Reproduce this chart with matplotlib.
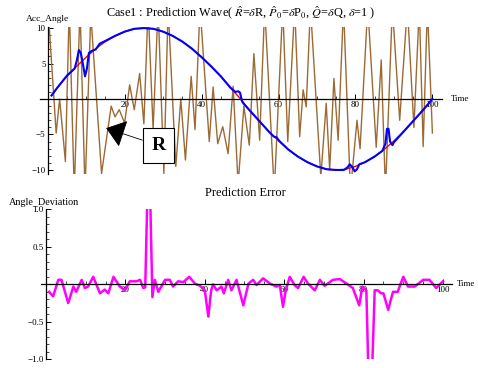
import numpy as np
import matplotlib
matplotlib.use("Agg")
import matplotlib.pyplot as plt
from matplotlib.ticker import FixedLocator, MultipleLocator

plt.rcParams['font.family'] = ['Liberation Serif', 'DejaVu Serif']
plt.rcParams['mathtext.fontset'] = 'stix'

r_t = [0.3, 2.2, 3.1, 4.6, 5.6, 6.9, 8.4, 9.7, 11.2, 14.0, 16.5, 17.5, 18.6, 20.0,
       21.3, 22.5, 23.9, 25.0, 26.1, 27.4, 28.7, 30.2, 31.3, 33.3, 34.6, 35.8,
       37.3, 38.3, 39.6, 42.0, 43.0, 44.2, 45.5, 46.9, 48.2, 49.5, 51.0, 52.4,
       53.6, 55.1, 56.4, 58.9, 61.1, 62.4, 64.2, 65.5, 66.4, 67.2, 68.3, 71.0,
       72.4, 73.3, 74.4, 75.5, 76.9, 78.7, 80.4, 81.2, 83.2, 85.4, 86.7, 87.8,
       89.6, 91.5, 93.5, 95.2, 96.6, 97.6, 98.7, 100.0]
r_v = [11, -4.8, 0.0, -8.8, 13, -13, 13, -13, 12, -10.5, -1.0, -2.5, -1.5, -3.4,
       2.0, -1.5, 3.6, -3.5, 13, -4.3, 13, -10.5, 13, -9.5, 0.0, -8.6,
       3.2, -4.3, 13, -6.0, 1.7, -6.3, -3.9, -7.7, 1.8, -12, -1.0, -6.5,
       6.4, -5.8, 13, -13, 13, -6.0, 13, -5.3, 1.3, -1.1, 13, -11,
       -0.6, -10, 2.9, -5.8, 13, -13, -3.0, -7.0, 13, -6.8, 5.5, -13,
       13, -3.0, 13, -4.0, 13, -6.7, 13, -4.8]

# true wave (red)
true_t = [1, 2.5, 5, 7.5, 10, 12.5, 15, 17.5, 20, 22.5, 25, 27.5, 30, 32.5, 35,
          37.5, 40, 42.5, 45, 47.5, 50, 52.5, 55, 57.5, 60, 62.5, 65, 67.5, 70,
          72.5, 75, 77.5, 80, 82.5, 85, 87.5, 90, 92.5, 95, 97.5, 100]
true_v = [0.5, 1.6, 3.2, 4.6, 5.9, 7.1, 8.1, 8.9, 9.5, 9.9, 10.0, 9.9, 9.5, 8.9,
          8.1, 7.1, 5.9, 4.6, 3.2, 1.6, 0.1, -1.6, -3.1, -4.6, -5.9, -7.1, -8.1,
          -8.9, -9.5, -9.9, -10.0, -9.9, -9.5, -8.9, -8.1, -7.1, -5.9, -4.6,
          -3.1, -1.6, 0.0]

# prediction (blue)
pred_t = [1, 2.5, 5, 7, 7.6, 8.1, 8.6, 9.2, 9.7, 10.2, 10.7, 11.5, 12.5, 13.5,
          15, 17.5, 20, 22.5, 25, 27.5, 30, 32.5, 35, 37.5, 40, 42.5, 45, 47.5,
          48.8, 49.5, 50.0, 50.5, 51, 52.5, 55, 57.5, 58.8, 59.5, 60.2, 62.5,
          65, 67.5, 70, 72.5, 75, 77.0, 78.0, 78.5, 79.2, 79.8, 80.4, 81,
          82.5, 85, 87, 87.8, 88.2, 88.6, 89.0, 89.6, 90, 92.5, 95, 97.5, 100]
pred_v = [0.5, 1.6, 3.3, 4.3, 5.5, 6.9, 6.5, 4.8, 3.2, 4.3, 6.5, 6.8, 7.0, 7.8,
          8.2, 8.9, 9.5, 9.9, 10.0, 9.9, 9.5, 8.9, 8.1, 7.1, 5.9, 4.6, 3.2, 1.6,
          1.0, 1.1, 0.9, -0.3, -0.7, -1.6, -3.1, -4.6, -5.3, -5.4, -5.9, -7.1,
          -8.1, -8.9, -9.5, -9.9, -10.0, -10.0, -9.6, -9.2, -9.6, -10.2, -9.9,
          -9.2, -8.9, -8.1, -7.3, -6.3, -4.2, -4.2, -6.0, -6.5, -6.1, -4.6,
          -3.1, -1.6, 0.0]

# prediction error (magenta)
err_t = [0.8, 1.8, 3.1, 3.9, 5.6, 6.9, 7.6, 9.0, 9.8, 10.6, 11.9, 13.6, 14.8,
         15.7, 17.0, 18.6, 19.9, 21.1, 22.8, 23.7, 24.5, 25.0, 25.9, 26.8, 27.4,
         28.3, 30.0, 31.2, 32.0, 33.3, 34.6, 36.1, 37.5, 38.8, 40.0, 40.9, 41.6,
         42.1, 43.0, 44.2, 44.8, 45.9, 46.7, 48.0, 49.7, 51.0, 52.2, 53.0, 54.7,
         56.4, 58.0, 58.9, 59.7, 60.4, 61.4, 62.6, 63.5, 64.9, 66.0, 67.7, 69.0,
         70.2, 72.3, 74.0, 75.7, 77.3, 78.9, 79.7, 80.7, 81.6, 82.3, 82.8, 83.6,
         84.4, 85.0, 86.2, 87.4, 88.6, 90.0, 91.2, 92.9, 95.0, 96.6, 98.3, 100.0]
err_v = [-0.10, -0.16, 0.06, 0.06, -0.25, -0.03, -0.10, 0.06, -0.05, -0.03,
         0.10, -0.12, -0.07, -0.12, 0.10, -0.03, -0.08, 0.04, 0.04, 0.06, -0.05,
         -0.04, 2.0, -0.17, 0.06, -0.10, 0.06, 0.06, -0.03, 0.04, 0.03, 0.10,
         0.01, -0.02, -0.08, -0.43, -0.08, 0.00, -0.08, -0.03, -0.12, 0.06,
         -0.08, 0.06, -0.28, 0.01, 0.06, -0.01, 0.08, 0.01, -0.03, -0.01, -0.30,
         -0.08, 0.10, -0.01, -0.05, 0.10, 0.01, -0.08, 0.06, -0.02, 0.06, 0.07,
         0.01, -0.05, -0.28, -0.03, -0.08, -2.0, -0.9, -0.08, -0.08, -0.12,
         -0.12, -0.34, -0.10, -0.10, 0.10, -0.03, -0.03, 0.06, 0.06, -0.05, 0.04]

fig = plt.figure(figsize=(4.78, 3.68), dpi=100)


def mathematica_axes(ax):
    # axes crossing at the origin, ticks pointing inwards
    for s in ["top", "right"]:
        ax.spines[s].set_visible(False)
    ax.spines["left"].set_position(("data", 0))
    ax.spines["bottom"].set_position(("data", 0))
    ax.spines["left"].set_linewidth(0.9)
    ax.spines["bottom"].set_linewidth(0.9)
    ax.tick_params(which="major", direction="in", length=3.5, width=0.7,
                   labelsize=6.5, pad=1.5, colors="black")
    ax.tick_params(which="minor", direction="in", length=2, width=0.5)
    ax.patch.set_alpha(0)


# top panel -------------------------------------------------------------
ax1 = fig.add_axes([0.0837, 0.5285, 0.841, 0.399])
ax1.plot(r_t, r_v, color="#9C6A35", lw=1.0, solid_joinstyle="round", zorder=2)
ax1.plot(true_t, true_v, color="#FF0000", lw=1.0, zorder=3)
ax1.plot(pred_t, pred_v, color="#0000FF", lw=1.5, zorder=4)
ax1.set_xlim(-2, 102.5)
ax1.set_ylim(-10.5, 10.2)
mathematica_axes(ax1)
ax1.xaxis.set_major_locator(FixedLocator([20, 40, 60, 80, 100]))
ax1.xaxis.set_minor_locator(MultipleLocator(5))
ax1.yaxis.set_major_locator(FixedLocator([-10, -5, 5, 10]))
ax1.yaxis.set_minor_locator(MultipleLocator(1))

ax1.annotate("R", xy=(15.2, -4.1), xytext=(28.8, -6.55),
             fontsize=14, fontweight="bold", ha="center", va="center",
             bbox=dict(boxstyle="square,pad=0.45", fc="white", ec="black", lw=0.8),
             arrowprops=dict(arrowstyle="-|>,head_length=1.2,head_width=0.9",
                             mutation_scale=10, color="black", lw=0.6,
                             shrinkA=0, shrinkB=0), zorder=6)

fig.text(0.504, 0.967,
         r"Case1 : Prediction Wave( $\hat{R}$=$\delta$R, $\hat{P}_0$=$\delta$P$_0$, "
         r"$\hat{Q}$=$\delta$Q, $\delta$=1 )",
         ha="center", va="center", fontsize=8.8)
fig.text(0.1, 0.948, "Acc_Angle", ha="center", va="center", fontsize=6.8)
fig.text(0.943, 0.731, "Time", ha="left", va="center", fontsize=6.3)

# bottom panel ----------------------------------------------------------
ax2 = fig.add_axes([0.0854, 0.0236, 0.8596, 0.4076])
ax2.plot(err_t, err_v, color="#FF00FF", lw=1.8, solid_joinstyle="round")
ax2.set_xlim(-1.3, 102.2)
ax2.set_ylim(-1.0, 1.0)
mathematica_axes(ax2)
ax2.xaxis.set_major_locator(FixedLocator([20, 40, 60, 80, 100]))
ax2.xaxis.set_minor_locator(MultipleLocator(5))
ax2.yaxis.set_major_locator(FixedLocator([-1.0, -0.5, 0.5, 1.0]))
ax2.yaxis.set_minor_locator(MultipleLocator(0.1))
ax2.set_yticklabels(["\u22121.0", "\u22120.5", "0.5", "1.0"])

fig.text(0.514, 0.475, "Prediction Error", ha="center", va="center", fontsize=9)
fig.text(0.093, 0.449, "Angle_Deviation", ha="center", va="center", fontsize=7.3)
fig.text(0.993, 0.228, "Time", ha="right", va="center", fontsize=6.3)

fig.savefig("out.png", dpi=100)
